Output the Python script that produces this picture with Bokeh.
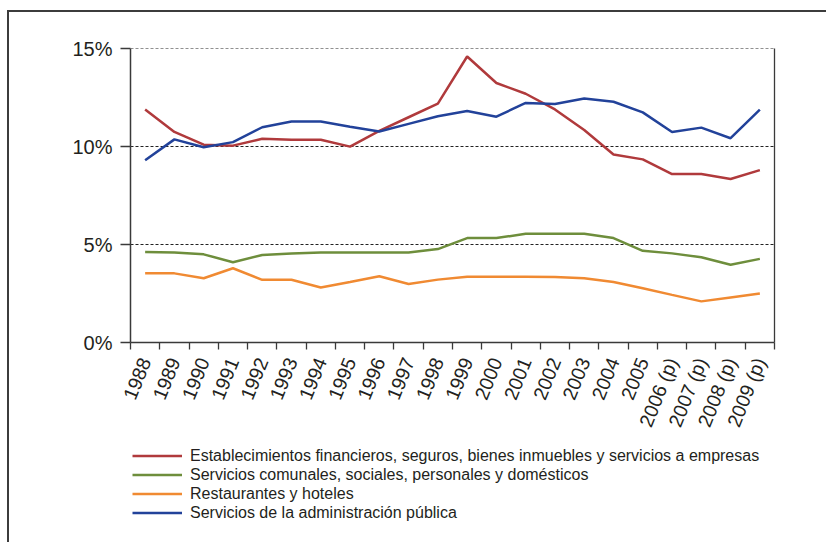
import math
from bokeh.plotting import figure
from bokeh.layouts import column
from bokeh.models import (FixedTicker, LinearAxis, Legend, LegendItem, Range1d,
                          ColumnDataSource, PrintfTickFormatter)
from bokeh.embed import file_html
from bokeh.resources import INLINE

years = ["1988", "1989", "1990", "1991", "1992", "1993", "1994", "1995", "1996",
         "1997", "1998", "1999", "2000", "2001", "2002", "2003", "2004", "2005",
         "2006 (p)", "2007 (p)", "2008 (p)", "2009 (p)"]

financieros = [11.9, 10.75, 10.1, 10.05, 10.4, 10.35, 10.35, 10.0, 10.8, 11.5, 12.2,
               14.6, 13.25, 12.7, 11.9, 10.85, 9.6, 9.35, 8.6, 8.6, 8.35, 8.8]
comunales = [4.62, 4.6, 4.5, 4.1, 4.47, 4.55, 4.6, 4.6, 4.6, 4.6, 4.77,
             5.33, 5.33, 5.55, 5.55, 5.55, 5.33, 4.68, 4.55, 4.35, 3.97, 4.27]
restaurantes = [3.53, 3.53, 3.28, 3.79, 3.2, 3.2, 2.81, 3.09, 3.38, 2.99, 3.21,
                3.36, 3.36, 3.36, 3.34, 3.28, 3.09, 2.77, 2.43, 2.1, 2.3, 2.5]
administracion = [9.3, 10.37, 9.97, 10.23, 10.99, 11.28, 11.28, 11.02, 10.77, 11.16, 11.55,
                  11.82, 11.53, 12.23, 12.18, 12.46, 12.29, 11.75, 10.75, 10.97, 10.43, 11.89]

series_names = [
    "Establecimientos financieros, seguros, bienes inmuebles y servicios a empresas",
    "Servicios comunales, sociales, personales y domésticos",
    "Restaurantes y hoteles",
    "Servicios de la administración pública",
]
series_colors = ["#B03A3C", "#6E8E3C", "#F08A32", "#22429A"]
y_ticks = [0, 5, 10, 15]

FONT = "Liberation Sans"
TXT = "#231f20"
AX = "#3a3a3a"
BORDER = "2px solid #3c3c3c"

idx = list(range(len(years)))
keys = ["fin", "com", "res", "adm"]
src = ColumnDataSource(dict(x=idx, fin=financieros, com=comunales,
                            res=restaurantes, adm=administracion))

p = figure(frame_width=642, frame_height=292,
           min_border_left=121, min_border_right=54, min_border_top=36, min_border_bottom=98,
           x_range=Range1d(-0.5, len(years) - 0.5), y_range=Range1d(0, 15.01),
           output_backend="svg", toolbar_location=None)
p.styles = {"border-left": BORDER, "border-top": BORDER,
            "margin-top": "10px", "margin-left": "7px"}
p.outline_line_color = None
p.background_fill_color = "white"

# x axis
xa = p.xaxis[0]
xa.ticker = FixedTicker(ticks=idx, minor_ticks=[i - 0.5 for i in range(len(years) + 1)])
xa.major_label_overrides = {i: years[i] for i in idx}
xa.major_label_orientation = math.radians(68)
xa.major_tick_out = 0
xa.major_tick_in = 0
xa.minor_tick_out = 7
xa.minor_tick_in = 0
xa.minor_tick_line_color = AX
xa.minor_tick_line_width = 1.3
xa.axis_line_color = AX
xa.axis_line_width = 1.5
xa.major_label_text_font = FONT
xa.major_label_text_font_size = "19.5px"
xa.major_label_text_color = TXT
xa.major_label_standoff = 9

# y axis
ya = p.yaxis[0]
ya.ticker = FixedTicker(ticks=y_ticks, minor_ticks=[])
ya.formatter = PrintfTickFormatter(format="%d%%")
ya.major_tick_out = 10
ya.major_tick_in = 0
ya.major_tick_line_color = AX
ya.major_tick_line_width = 1.3
ya.axis_line_color = AX
ya.axis_line_width = 1.5
ya.major_label_text_font = FONT
ya.major_label_text_font_size = "20px"
ya.major_label_text_color = TXT
ya.major_label_standoff = 8

ra = LinearAxis(ticker=FixedTicker(ticks=[], minor_ticks=[]), major_label_text_font_size="0px",
                major_tick_out=0, minor_tick_out=0, axis_line_color=AX, axis_line_width=1.3)
p.add_layout(ra, "right")

p.xgrid.visible = False
p.ygrid.ticker = FixedTicker(ticks=y_ticks[1:])
p.ygrid.grid_line_color = "#222"
p.ygrid.grid_line_dash = "3 2"
p.ygrid.grid_line_width = 1

for k, c in zip(keys, series_colors):
    p.line("x", k, source=src, line_color=c, line_width=2.5)

# legend panel (series drawn out of view; only their legend samples show)
p2 = figure(width=817, height=104, min_border=0, x_axis_location=None, y_axis_location=None,
            x_range=Range1d(-0.5, len(years) - 0.5), y_range=Range1d(-200, -199),
            output_backend="svg", toolbar_location=None)
p2.styles = {"border-left": BORDER, "margin-left": "7px"}
p2.outline_line_color = None
p2.xgrid.visible = False
p2.ygrid.visible = False
leg_renderers = [p2.line("x", k, source=src, line_color=c, line_width=2.5)
                 for k, c in zip(keys, series_colors)]
items = [LegendItem(label=n, renderers=[r]) for n, r in zip(series_names, leg_renderers)]
legend = Legend(items=items, location=(2, 20), orientation="vertical",
                glyph_width=50, glyph_height=19, label_height=19, spacing=0,
                padding=0, margin=0, label_standoff=8,
                label_text_font=FONT, label_text_font_size="16px", label_text_color=TXT,
                border_line_color=None, background_fill_alpha=0)
p2.add_layout(legend)

layout = column(p, p2, spacing=0)
open("out.html", "w").write(file_html(layout, INLINE))
